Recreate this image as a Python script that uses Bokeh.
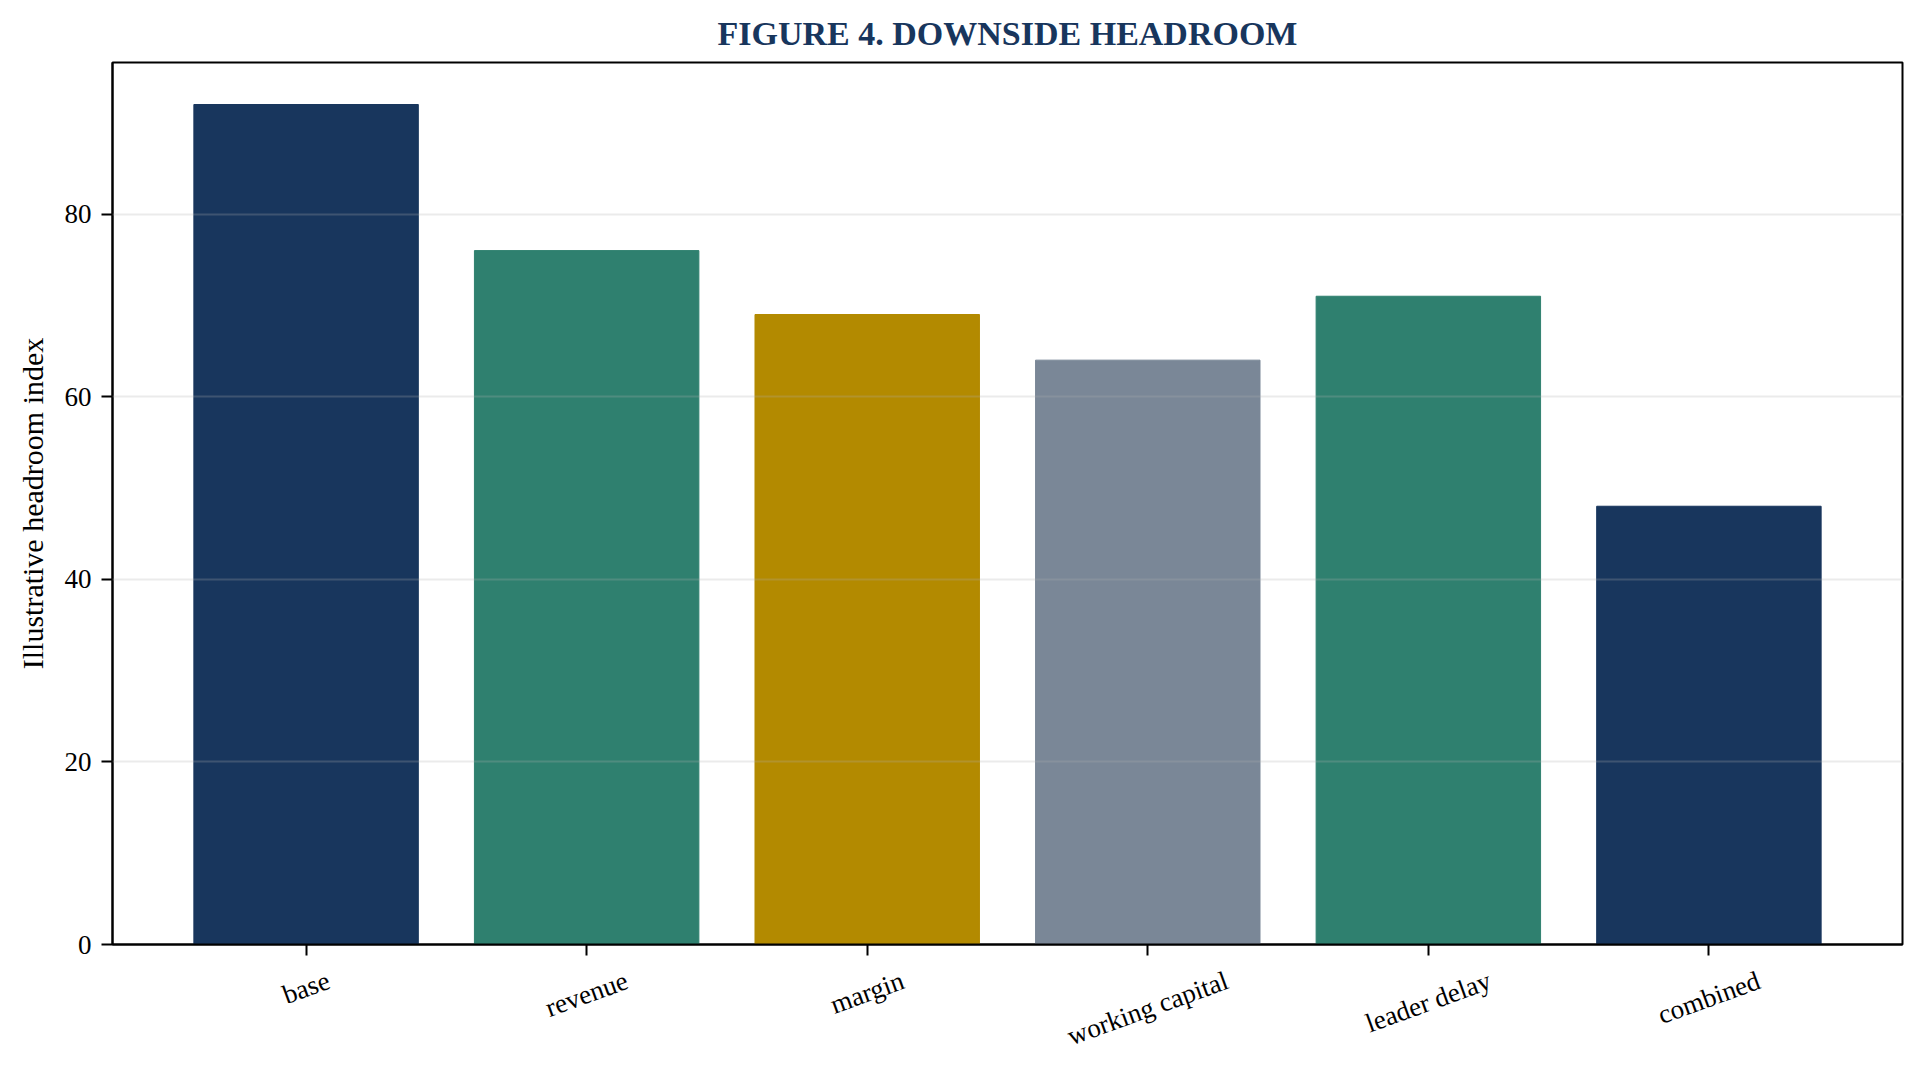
import math
from bokeh.plotting import figure
from bokeh.layouts import column
from bokeh.models import ColumnDataSource, Range1d, FixedTicker, CustomJSTickFormatter
from bokeh.core.properties import value
from bokeh.embed import file_html
from bokeh.resources import INLINE

# ---- data ----
categories = ["base", "revenue", "margin", "working capital", "leader delay", "combined"]
values = [92, 76, 69, 64, 71, 48]
bar_colors = ["#18365d", "#2f806f", "#b38a00", "#7a8797", "#2f806f", "#18365d"]
y_ticks = [0, 20, 40, 60, 80]

TITLE = "FIGURE 4. DOWNSIDE HEADROOM"
Y_LABEL = "Illustrative headroom index"

FONT = "Liberation Serif"
NAVY = "#18365d"
TICK_PX = 27
ANGLE = math.radians(20)

W_TOTAL = 1908
BORDER_L, BORDER_R = 112, 6
MAIN_H = 958          # main plot height (frame bottom at 944)
MAIN_BOTTOM = 14
LAB_H = 103           # strip below holding the rotated category labels
LABEL_PAD = 21        # gap between the axis line and the top of a label's box

# approximate Times/Liberation Serif advance widths (em) to centre rotated labels
_W = dict(a=.444, b=.5, c=.444, d=.5, e=.444, f=.333, g=.5, h=.5, i=.278, j=.278,
          k=.5, l=.278, m=.778, n=.5, o=.5, p=.5, q=.5, r=.333, s=.389, t=.278,
          u=.5, v=.5, w=.722, x=.5, y=.5, z=.444)
_W[" "] = .25


def label_center(s):
    w = sum(_W.get(ch, .5) for ch in s) * TICK_PX
    h = 1.1 * TICK_PX
    return LABEL_PAD - MAIN_BOTTOM + (w * math.sin(ANGLE) + h * math.cos(ANGLE)) / 2


n = len(categories)
idx = list(range(n))
src = ColumnDataSource(dict(x=idx, top=values, color=bar_colors))
lab_src = ColumnDataSource(dict(x=idx, name=categories,
                                cy=[label_center(c) for c in categories]))

x_range = Range1d(-0.69, n - 1 + 0.69)

p = figure(width=W_TOTAL, height=MAIN_H,
           x_range=x_range, y_range=Range1d(0, max(values) * 1.05),
           output_backend="svg", toolbar_location=None,
           min_border_left=BORDER_L, min_border_right=BORDER_R,
           min_border_top=62, min_border_bottom=MAIN_BOTTOM)

p.vbar(x="x", top="top", width=0.8, color="color", source=src)

# title
p.title.text = TITLE
p.title.align = "center"
p.title.text_font = FONT
p.title.text_font_size = "34px"
p.title.text_font_style = "bold"
p.title.text_color = NAVY
p.title.standoff = 21

# frame
p.outline_line_color = "black"
p.outline_line_width = 2
p.outline_line_alpha = 1
p.background_fill_color = "white"
p.border_fill_color = "white"

# grid
p.xgrid.visible = False
p.ygrid.ticker = FixedTicker(ticks=y_ticks)
p.ygrid.grid_line_color = "#b0b0b0"
p.ygrid.grid_line_alpha = 0.25
p.ygrid.grid_line_width = 1.8
p.ygrid.level = "annotation"

# axes
for ax in (p.xaxis[0], p.yaxis[0]):
    ax.axis_line_color = "black"
    ax.axis_line_width = 2
    ax.major_tick_line_color = "black"
    ax.major_tick_line_width = 2
    ax.major_tick_out = 11
    ax.major_tick_in = 0
    ax.minor_tick_line_color = None
    ax.major_label_text_font = FONT
    ax.major_label_text_font_size = f"{TICK_PX}px"
    ax.major_label_text_color = "black"

p.yaxis.ticker = FixedTicker(ticks=y_ticks)
p.yaxis.major_label_standoff = 10
p.yaxis.axis_label = Y_LABEL
p.yaxis.axis_label_text_font = FONT
p.yaxis.axis_label_text_font_size = "30px"
p.yaxis.axis_label_text_font_style = "normal"
p.yaxis.axis_label_text_color = "black"
p.yaxis.axis_label_standoff = 13

p.xaxis.ticker = FixedTicker(ticks=idx)
p.xaxis.formatter = CustomJSTickFormatter(code="return ''")
p.xaxis.major_label_text_font_size = "0px"
p.xaxis.major_label_standoff = 0

# strip under the plot: rotated category labels centred under their ticks
q = figure(width=W_TOTAL, height=LAB_H, x_range=x_range, y_range=Range1d(LAB_H, 0),
           output_backend="svg", toolbar_location=None,
           x_axis_location=None, y_axis_location=None,
           min_border_left=BORDER_L, min_border_right=BORDER_R,
           min_border_top=0, min_border_bottom=0)
q.outline_line_color = None
q.grid.visible = False
q.background_fill_color = "white"
q.border_fill_color = "white"
q.text(x="x", y="cy", text="name", source=lab_src, angle=ANGLE,
       text_align="center", text_baseline="middle",
       text_font=value(FONT), text_font_size=value(f"{TICK_PX}px"),
       text_color="black")

layout = column(p, q, spacing=0)
open("out.html", "w").write(file_html(layout, INLINE))
